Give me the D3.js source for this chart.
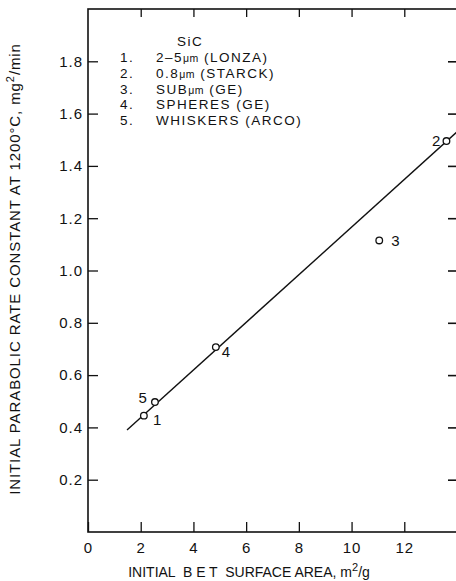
<!DOCTYPE html>
<html>
<head>
<meta charset="utf-8">
<script src="https://cdn.jsdelivr.net/npm/d3@7"></script>
<style>
  html, body { margin: 0; padding: 0; background: #fff; }
  svg { display: block; font-family: "Liberation Sans", Arial, Helvetica, sans-serif; }
</style>
</head>
<body>
<svg id="chart" width="456" height="581"></svg>
<script>
// Sample measurements: BET surface area (m²/g) vs. initial parabolic rate constant
const sampleIds   = ["1", "2", "3", "4", "5"];
const surfaceArea = [2.12, 13.6, 11.05, 4.85, 2.54];
const rateConst   = [0.445, 1.495, 1.115, 0.707, 0.497];

// Fitted line endpoints
const fitX = [1.48, 14.0];
const fitY = [0.39, 1.53];

// Legend entries
const legendTitle = "SiC";
const legendNums  = ["1.", "2.", "3.", "4.", "5."];
const legendMain  = ["2–5", "0.8", "SUB", "SPHERES (GE)", "WHISKERS (ARCO)"];
const legendUnit  = ["μm", "μm", "μm", "", ""];
const legendTail  = [" (LONZA)", " (STARCK)", " (GE)", "", ""];

// Axis ticks
const xTicks = [0, 2, 4, 6, 8, 10, 12];
const yTicks = [0.2, 0.4, 0.6, 0.8, 1.0, 1.2, 1.4, 1.6, 1.8];

// Label offsets per sample point (dx, dy, anchor)
const labelPos = {
  "1": [9, 9, "start"],
  "2": [-6, 5, "end"],
  "3": [12, 6, "start"],
  "4": [6, 10, "start"],
  "5": [-8, 1, "end"]
};

const svg = d3.select("#chart");
const plotLeft = 88, plotRight = 457, plotTop = 9, plotBottom = 532;

const x = d3.scaleLinear().domain([0, 14]).range([plotLeft, plotRight]);
const y = d3.scaleLinear().domain([0, 2]).range([plotBottom, plotTop]);

const ink = "#111";

// Frame
svg.append("rect")
  .attr("x", plotLeft).attr("y", plotTop)
  .attr("width", plotRight - plotLeft).attr("height", plotBottom - plotTop)
  .attr("fill", "none").attr("stroke", ink).attr("stroke-width", 1.6);

// Bottom axis: inward ticks, labels below
const xAxis = d3.axisBottom(x).tickValues(xTicks).tickSize(-10).tickPadding(10)
  .tickFormat(d3.format("d"));
const gx = svg.append("g").attr("transform", `translate(0,${plotBottom})`).call(xAxis);
gx.select(".domain").remove();
gx.selectAll(".tick line").attr("stroke", ink).attr("stroke-width", 1.3);
gx.selectAll(".tick text").attr("fill", ink).attr("font-size", 15)
  .attr("font-family", null).attr("letter-spacing", 1);

// Top axis: inward ticks only
const gxt = svg.append("g").attr("transform", `translate(0,${plotTop})`)
  .call(d3.axisTop(x).tickValues(xTicks.filter(d => d > 0)).tickSize(-8).tickFormat(""));
gxt.select(".domain").remove();
gxt.selectAll(".tick line").attr("stroke", ink).attr("stroke-width", 1.3);

// Left axis: inward ticks, labels outside
const yAxis = d3.axisLeft(y).tickValues(yTicks).tickSize(-10).tickPadding(5)
  .tickFormat(d3.format(".1f"));
const gy = svg.append("g").attr("transform", `translate(${plotLeft},0)`).call(yAxis);
gy.select(".domain").remove();
gy.selectAll(".tick line").attr("stroke", ink).attr("stroke-width", 1.3);
gy.selectAll(".tick text").attr("fill", ink).attr("font-size", 15)
  .attr("font-family", null).attr("letter-spacing", 1);

// Right axis: inward ticks only
const gyr = svg.append("g").attr("transform", `translate(${plotRight},0)`)
  .call(d3.axisRight(y).tickValues(yTicks).tickSize(-9).tickFormat(""));
gyr.select(".domain").remove();
gyr.selectAll(".tick line").attr("stroke", ink).attr("stroke-width", 1.6);

// Fitted line
svg.append("path")
  .datum(d3.zip(fitX, fitY))
  .attr("d", d3.line().x(d => x(d[0])).y(d => y(d[1])))
  .attr("fill", "none").attr("stroke", ink).attr("stroke-width", 1.4);

// Data points
const pts = sampleIds.map((id, i) => ({ id, xv: surfaceArea[i], yv: rateConst[i] }));
svg.selectAll("circle.pt").data(pts).join("circle")
  .attr("class", "pt")
  .attr("cx", d => x(d.xv)).attr("cy", d => y(d.yv)).attr("r", 3.3)
  .attr("fill", "#fff").attr("stroke", ink).attr("stroke-width", 1.3);

svg.selectAll("text.ptlabel").data(pts).join("text")
  .attr("class", "ptlabel")
  .attr("x", d => x(d.xv) + labelPos[d.id][0])
  .attr("y", d => y(d.yv) + labelPos[d.id][1])
  .attr("text-anchor", d => labelPos[d.id][2])
  .attr("font-size", 15).attr("fill", ink)
  .text(d => d.id);

// Legend
const legendFont = 13.5, legendSpacing = 1.5;
svg.append("text").attr("x", 177).attr("y", 46)
  .attr("font-size", legendFont).attr("letter-spacing", legendSpacing)
  .attr("fill", ink).text(legendTitle);
const rowY = i => 62 + i * 15.8;
legendNums.forEach((n, i) => {
  svg.append("text").attr("x", 120).attr("y", rowY(i))
    .attr("font-size", legendFont).attr("letter-spacing", legendSpacing)
    .attr("fill", ink).text(n);
  const t = svg.append("text").attr("x", 156).attr("y", rowY(i))
    .attr("font-size", legendFont).attr("letter-spacing", legendSpacing)
    .attr("fill", ink);
  t.append("tspan").text(legendMain[i]);
  if (legendUnit[i]) t.append("tspan").attr("font-size", 10.5).attr("letter-spacing", 0.5).text(legendUnit[i]);
  if (legendTail[i]) t.append("tspan").text(legendTail[i]);
});

// Axis titles
const xt = svg.append("text").attr("x", 249).attr("y", 577)
  .attr("text-anchor", "middle").attr("font-size", 14).attr("fill", ink)
  .attr("letter-spacing", 0).attr("xml:space", "preserve");
xt.append("tspan").text("INITIAL  B E T  SURFACE AREA, m");
xt.append("tspan").attr("font-size", 11).attr("dy", -6).text("2");
xt.append("tspan").attr("dy", 6).text("/g");

const yt = svg.append("text")
  .attr("transform", "translate(20,269) rotate(-90)")
  .attr("text-anchor", "middle").attr("font-size", 15).attr("fill", ink)
  .attr("letter-spacing", 0.9);
yt.append("tspan").text("INITIAL PARABOLIC RATE CONSTANT AT 1200°C, mg");
yt.append("tspan").attr("font-size", 11).attr("dy", -6).text("2");
yt.append("tspan").attr("dy", 6).text("/min");
</script>
</body>
</html>
